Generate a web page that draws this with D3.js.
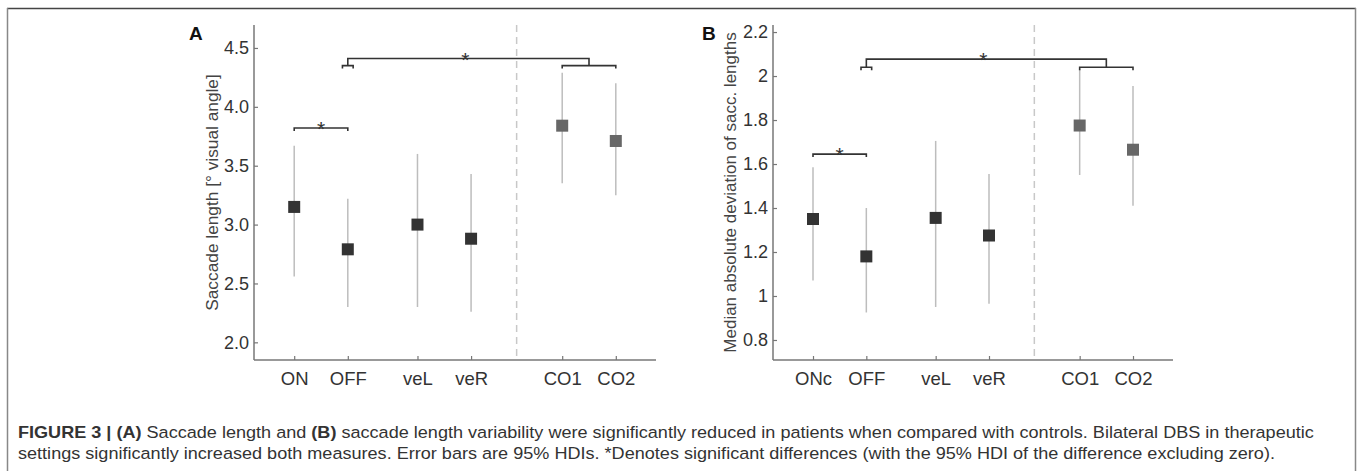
<!DOCTYPE html>
<html>
<head>
<meta charset="utf-8">
<script src="https://cdn.jsdelivr.net/npm/d3@7"></script>
<style>
  body { margin: 0; background: #fff; }
  text { font-family: "Liberation Sans", Arial, sans-serif; }
</style>
</head>
<body>
<div id="wrapper"></div>
<script>
// group names and x positions (in condition units)
const groupsA = ["ON", "OFF", "veL", "veR", "CO1", "CO2"];
const groupsB = ["ONc", "OFF", "veL", "veR", "CO1", "CO2"];
const xPositions = [1, 2, 3.3, 4.3, 6, 7];
const isControl = [false, false, false, false, true, true];
const separatorX = 5.15;

// panel A: saccade length
const medianA = [3.15, 2.79, 3.0, 2.88, 3.84, 3.71];
const lowA = [2.56, 2.30, 2.30, 2.26, 3.35, 3.25];
const highA = [3.67, 3.22, 3.60, 3.43, 4.29, 4.20];
const yTicksA = [2.0, 2.5, 3.0, 3.5, 4.0, 4.5];

// panel B: variability of saccade length
const medianB = [1.35, 1.18, 1.355, 1.275, 1.775, 1.665];
const lowB = [1.07, 0.925, 0.95, 0.965, 1.55, 1.41];
const highB = [1.585, 1.40, 1.705, 1.555, 2.03, 1.955];
const yTicksB = [0.8, 1, 1.2, 1.4, 1.6, 1.8, 2, 2.2];

// significance brackets (y in data units)
const pairBracketA = 3.82, longBracketA = 4.41, subBracketA = 4.35;
const pairBracketB = 1.645, longBracketB = 2.077, subBracketB = 2.04;

const width = 1357, height = 471;
const svg = d3.select("#wrapper").append("svg")
  .attr("width", width)
  .attr("height", height);

// figure frame
svg.append("line").attr("x1", 7).attr("x2", 1356).attr("y1", 8.5).attr("y2", 8.5)
  .attr("stroke", "#444").attr("stroke-width", 1.5);
svg.append("line").attr("x1", 7.5).attr("x2", 7.5).attr("y1", 8).attr("y2", height)
  .attr("stroke", "#888").attr("stroke-width", 1.5);
svg.append("line").attr("x1", 1355.5).attr("x2", 1355.5).attr("y1", 8).attr("y2", height)
  .attr("stroke", "#888").attr("stroke-width", 1.5);

function drawPanel(opts) {
  const x = d3.scaleLinear().domain([0.25, 7.75]).range([opts.left, opts.right]);
  const y = d3.scaleLinear().domain(opts.yDomain).range([360, 25]);
  const g = svg.append("g");

  // dashed separator between patients and controls
  g.append("line")
    .attr("x1", x(separatorX)).attr("x2", x(separatorX))
    .attr("y1", 25).attr("y2", 360)
    .attr("stroke", "#c8c8c8").attr("stroke-width", 1.5)
    .attr("stroke-dasharray", "7,5");

  // axes
  const yAxis = g.append("g")
    .attr("transform", `translate(${opts.left},0)`)
    .call(d3.axisRight(y).tickValues(opts.yTicks).tickSize(4)
      .tickFormat(opts.yFormat));
  yAxis.select(".domain").attr("stroke", "#777").attr("stroke-width", 1.5)
    .attr("d", `M0,25V360`);
  yAxis.selectAll(".tick line").attr("stroke", "#777").attr("stroke-width", 1.2);
  yAxis.selectAll(".tick text")
    .attr("x", -5).attr("text-anchor", "end")
    .attr("fill", "#333").style("font-size", "18px");

  const xAxis = g.append("g")
    .attr("transform", `translate(0,360)`)
    .call(d3.axisTop(x).tickValues(xPositions).tickSize(4)
      .tickFormat((d, i) => opts.groups[i]));
  xAxis.select(".domain").attr("stroke", "#777").attr("stroke-width", 1.5)
    .attr("d", `M${opts.left},0H${opts.right}`);
  xAxis.selectAll(".tick line").attr("stroke", "#777").attr("stroke-width", 1.2);
  xAxis.selectAll(".tick text")
    .attr("y", 25).attr("dy", 0)
    .attr("fill", "#333").style("font-size", "18.5px");

  // error bars
  g.selectAll(".err").data(xPositions).join("line")
    .attr("x1", d => x(d)).attr("x2", d => x(d))
    .attr("y1", (d, i) => y(opts.low[i])).attr("y2", (d, i) => y(opts.high[i]))
    .attr("stroke", "#bdbdbd").attr("stroke-width", 1.5);

  // medians
  const s = 12;
  g.selectAll(".med").data(xPositions).join("rect")
    .attr("x", d => x(d) - s / 2)
    .attr("y", (d, i) => y(opts.median[i]) - s / 2)
    .attr("width", s).attr("height", s)
    .attr("fill", (d, i) => isControl[i] ? "#676767" : "#333");

  // brackets
  const br = g.append("g").attr("fill", "none").attr("stroke", "#333").attr("stroke-width", 1.6);
  const tick = 3;
  const bracket = (x1, x2, yy) => br.append("path")
    .attr("d", `M${x1},${yy + tick}V${yy}H${x2}V${yy + tick}`);

  const yp = y(opts.pair);
  bracket(x(1), x(2), yp);
  const yl = y(opts.long), ys = y(opts.sub);
  const offHalf = 0.1;
  bracket(x(2 - offHalf), x(2 + offHalf), ys);
  bracket(x(6), x(7), ys);
  br.append("path")
    .attr("d", `M${x(2)},${ys}V${yl}H${x(6.5)}V${ys}`);

  const star = (cx, yy) => g.append("text")
    .attr("x", cx).attr("y", yy + 8)
    .attr("text-anchor", "middle")
    .attr("fill", "#333").style("font-size", "21px").text("*");
  star(x(1.5), yp);
  star((x(2) + x(6.5)) / 2 - 3, yl);

  // axis label
  g.append("text")
    .attr("transform", `translate(${opts.labelX},192.5) rotate(-90)`)
    .attr("text-anchor", "middle")
    .attr("dominant-baseline", "middle")
    .attr("fill", "#444").style("font-size", opts.labelSize)
    .text(opts.label);

  // panel letter
  g.append("text")
    .attr("x", opts.letterX).attr("y", 40)
    .attr("fill", "#111").style("font-size", "19px").style("font-weight", "bold")
    .text(opts.letter);
}

drawPanel({
  left: 254, right: 656, yDomain: [1.85, 4.695], yTicks: yTicksA,
  yFormat: d3.format(".1f"), groups: groupsA,
  median: medianA, low: lowA, high: highA,
  pair: pairBracketA, long: longBracketA, sub: subBracketA,
  label: "Saccade length [° visual angle]", labelX: 213, labelSize: "17.3px",
  letter: "A", letterX: 189
});

drawPanel({
  left: 773, right: 1173, yDomain: [0.709, 2.232], yTicks: yTicksB,
  yFormat: d => String(d), groups: groupsB,
  median: medianB, low: lowB, high: highB,
  pair: pairBracketB, long: longBracketB, sub: subBracketB,
  label: "Median absolute deviation of sacc. lengths", labelX: 732, labelSize: "17px",
  letter: "B", letterX: 702
});

// caption
const cap = svg.append("g").attr("fill", "#333").style("font-size", "16.5px");
const line1 = cap.append("text").attr("x", 18).attr("y", 438);
line1.append("tspan").style("font-weight", "bold").text("FIGURE 3 | (A)");
line1.append("tspan").text(" Saccade length and ");
line1.append("tspan").style("font-weight", "bold").text("(B)");
line1.append("tspan").text(" saccade length variability were significantly reduced in patients when compared with controls. Bilateral DBS in therapeutic");
const line2 = cap.append("text").attr("x", 18).attr("y", 459)
  .text("settings significantly increased both measures. Error bars are 95% HDIs. *Denotes significant differences (with the 95% HDI of the difference excluding zero).");

// the caption face is narrower than Arial; squeeze both lines equally
const k = 1297 / line1.node().getComputedTextLength();
cap.attr("transform", `translate(18,0) scale(${k},1) translate(-18,0)`);
</script>
</body>
</html>
